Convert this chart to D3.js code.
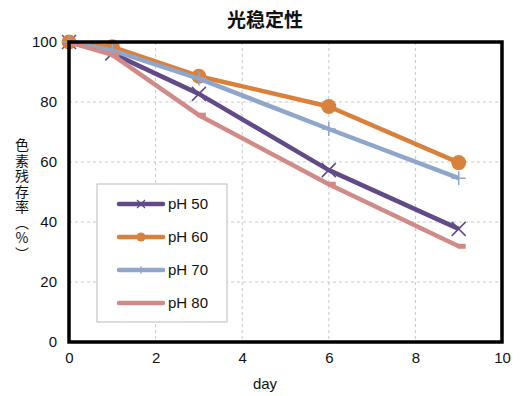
<!DOCTYPE html>
<html>
<head>
<meta charset="utf-8">
<script src="https://d3js.org/d3.v7.min.js"></script>
<style>
  body { margin: 0; background: #fff; }
  text { font-family: "Liberation Sans", "Noto Sans CJK SC", sans-serif; fill: #111; }
</style>
</head>
<body>
<div id="chart"></div>
<script>
// data
var days = [0, 1, 3, 6, 9];
var ph50 = [100, 96.2, 82.7, 57.3, 37.7];
var ph60 = [100, 98.4, 88.6, 78.5, 59.8];
var ph70 = [100, 97.2, 87.8, 71.0, 54.6];
var ph80 = [100, 95.7, 75.6, 52.6, 31.9];
var seriesNames = ["pH 50", "pH 60", "pH 70", "pH 80"];
var xTicks = [0, 2, 4, 6, 8, 10];
var yTicks = [0, 20, 40, 60, 80, 100];

var svgWidth = 528, svgHeight = 396;
var margin = { top: 42, right: 26, bottom: 54, left: 69 };
var width = svgWidth - margin.left - margin.right;
var height = svgHeight - margin.top - margin.bottom;

var svg = d3.select("#chart").append("svg")
  .attr("width", svgWidth)
  .attr("height", svgHeight);

var chartGroup = svg.append("g")
  .attr("transform", `translate(${margin.left}, ${margin.top})`);

var x = d3.scaleLinear().domain([0, 10]).range([0, width]);
var y = d3.scaleLinear().domain([0, 100]).range([height, 0]);

// grid
chartGroup.selectAll(".gx").data(xTicks.slice(1, -1)).enter().append("line")
  .attr("x1", d => x(d)).attr("x2", d => x(d))
  .attr("y1", 0).attr("y2", height)
  .attr("stroke", "#c8c8c8").attr("stroke-dasharray", "3,3");
chartGroup.selectAll(".gy").data(yTicks.slice(1, -1)).enter().append("line")
  .attr("y1", d => y(d)).attr("y2", d => y(d))
  .attr("x1", 0).attr("x2", width)
  .attr("stroke", "#c8c8c8").attr("stroke-dasharray", "3,3");

// axes (labels only, frame drawn separately)
var bottomAxis = d3.axisBottom(x).tickValues(xTicks).tickSize(0).tickPadding(10);
var leftAxis = d3.axisLeft(y).tickValues(yTicks).tickSize(0).tickPadding(12);
var xAxis = chartGroup.append("g").attr("transform", `translate(0, ${height})`).call(bottomAxis);
var yAxis = chartGroup.append("g").call(leftAxis);
[xAxis, yAxis].forEach(function(a) {
  a.select(".domain").remove();
  a.selectAll("text").style("font-size", "15px").attr("fill", "#111");
});

var series = [
  { name: seriesNames[0], values: ph50, color: "#604a87", marker: "x" },
  { name: seriesNames[1], values: ph60, color: "#d9813a", marker: "circle" },
  { name: seriesNames[2], values: ph70, color: "#8fa6cc", marker: "plus" },
  { name: seriesNames[3], values: ph80, color: "#d08b88", marker: "dash" }
];

var line = d3.line().x(d => x(d[0])).y(d => y(d[1]));

function drawMarker(g, type, cx, cy, color) {
  if (type === "circle") {
    g.append("circle").attr("cx", cx).attr("cy", cy).attr("r", 7.5).attr("fill", color);
  } else if (type === "x") {
    var s = 7;
    g.append("path").attr("d", `M${cx - s},${cy - s}L${cx + s},${cy + s}M${cx - s},${cy + s}L${cx + s},${cy - s}`)
      .attr("stroke", color).attr("stroke-width", 1.5).attr("fill", "none");
  } else if (type === "plus") {
    var p = 7;
    g.append("path").attr("d", `M${cx - p},${cy}L${cx + p},${cy}M${cx},${cy - p}L${cx},${cy + p}`)
      .attr("stroke", color).attr("stroke-width", 1.5).attr("fill", "none");
  } else if (type === "dash") {
    g.append("line").attr("x1", cx - 1).attr("x2", cx + 7).attr("y1", cy).attr("y2", cy)
      .attr("stroke", color).attr("stroke-width", 5);
  }
}

series.forEach(function(s) {
  var pts = days.map((d, i) => [d, s.values[i]]);
  chartGroup.append("path").datum(pts)
    .attr("d", line)
    .attr("fill", "none")
    .attr("stroke", s.color)
    .attr("stroke-width", 4.5)
    .attr("stroke-linejoin", "round");
  pts.forEach(function(p) {
    drawMarker(chartGroup, s.marker, x(p[0]), y(p[1]), s.color);
  });
});

// frame
chartGroup.append("rect")
  .attr("x", 0).attr("y", 0).attr("width", width).attr("height", height)
  .attr("fill", "none").attr("stroke", "#000").attr("stroke-width", 3.5);

// legend
var legend = svg.append("g").attr("transform", "translate(97, 184)");
legend.append("rect").attr("width", 130).attr("height", 138)
  .attr("fill", "#fff").attr("stroke", "#bbb").attr("stroke-width", 1);
series.forEach(function(s, i) {
  var ly = 20 + i * 33;
  legend.append("line").attr("x1", 22).attr("x2", 66).attr("y1", ly).attr("y2", ly)
    .attr("stroke", s.color).attr("stroke-width", 4.5).attr("stroke-linecap", "round");
  if (s.marker === "circle") {
    legend.append("circle").attr("cx", 44).attr("cy", ly).attr("r", 4.5).attr("fill", s.color);
  } else if (s.marker === "x") {
    legend.append("path").attr("d", `M40,${ly - 4}L48,${ly + 4}M40,${ly + 4}L48,${ly - 4}`)
      .attr("stroke", s.color).attr("stroke-width", 1.2);
  } else if (s.marker === "plus") {
    legend.append("path").attr("d", `M44,${ly - 4}L44,${ly + 4}`)
      .attr("stroke", s.color).attr("stroke-width", 1.2);
  }
  legend.append("text").attr("x", 71).attr("y", ly + 5)
    .style("font-size", "15px").text(s.name);
});

// title
svg.append("text").attr("x", 265).attr("y", 27).attr("text-anchor", "middle")
  .style("font-size", "19px").style("font-weight", "bold")
  .style("font-family", "'Noto Sans CJK SC', sans-serif")
  .text("光稳定性");

// x label
svg.append("text").attr("x", 265).attr("y", 389).attr("text-anchor", "middle")
  .style("font-size", "15px").text("day");

// y label, vertical writing
var yLabelText = "色素残存率（%）";
svg.append("text")
  .attr("x", 22).attr("y", 138)
  .style("writing-mode", "vertical-rl")
  .style("text-orientation", "upright")
  .style("letter-spacing", "1.5px")
  .style("font-size", "14px")
  .style("font-family", "'Noto Sans CJK SC', sans-serif")
  .text(yLabelText);
</script>
</body>
</html>
